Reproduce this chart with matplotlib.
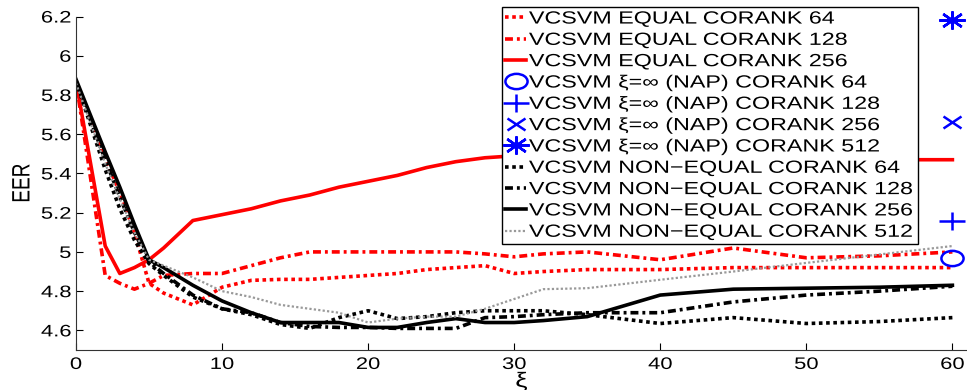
import matplotlib
matplotlib.use("Agg")
import matplotlib.pyplot as plt
from matplotlib.markers import MarkerStyle
from matplotlib.transforms import Affine2D
from matplotlib.ticker import FormatStrFormatter
from matplotlib.patheffects import AbstractPathEffect

plt.rcParams['font.family'] = ['Liberation Sans', 'DejaVu Sans']

# xi values shared by all curves
xi = [0, 2, 3, 4, 5, 6, 8, 10, 12, 14, 16, 18, 20, 22, 24, 26, 28, 30, 32, 35, 40, 45, 50, 55, 60]

# VCSVM equal
eq64 = [5.87, 5.48, 5.30, 5.10, 4.84, 4.79, 4.73, 4.82, 4.855, 4.86, 4.86, 4.87, 4.88, 4.89,
        4.91, 4.92, 4.93, 4.89, 4.90, 4.91, 4.91, 4.92, 4.92, 4.92, 4.92]
eq128 = [5.87, 4.88, 4.84, 4.81, 4.84, 4.88, 4.89, 4.89, 4.93, 4.97, 5.00, 5.00, 5.00, 5.00,
         5.00, 5.00, 4.99, 4.975, 4.99, 5.00, 4.96, 5.02, 4.97, 4.98, 5.00]
eq256 = [5.87, 5.03, 4.89, 4.92, 4.96, 5.02, 5.16, 5.19, 5.22, 5.26, 5.29, 5.33, 5.36, 5.39,
         5.43, 5.46, 5.48, 5.49, 5.49, 5.49, 5.48, 5.48, 5.48, 5.47, 5.47]

# VCSVM xi=inf (NAP), only at xi=60
nap_x = 60
nap64 = 4.97
nap128 = 5.16
nap256 = 5.66
nap512 = 6.18

# VCSVM non-equal
ne64 = [5.87, 5.42, 5.22, 5.06, 4.94, 4.88, 4.77, 4.71, 4.68, 4.63, 4.61, 4.665, 4.70, 4.66,
        4.67, 4.69, 4.70, 4.70, 4.70, 4.68, 4.635, 4.665, 4.635, 4.645, 4.665]
ne128 = [5.87, 5.47, 5.28, 5.10, 4.95, 4.89, 4.78, 4.71, 4.69, 4.64, 4.62, 4.615, 4.615, 4.61,
         4.61, 4.61, 4.665, 4.67, 4.68, 4.69, 4.69, 4.745, 4.78, 4.80, 4.825]
ne256 = [5.88, 5.51, 5.33, 5.14, 4.96, 4.92, 4.83, 4.75, 4.69, 4.64, 4.64, 4.64, 4.615, 4.615,
         4.64, 4.66, 4.64, 4.64, 4.65, 4.67, 4.78, 4.81, 4.815, 4.82, 4.83]
ne512 = [5.86, 5.45, 5.27, 5.10, 4.96, 4.93, 4.87, 4.80, 4.77, 4.73, 4.71, 4.69, 4.64, 4.66,
         4.67, 4.67, 4.71, 4.76, 4.81, 4.815, 4.858, 4.90, 4.944, 4.987, 5.03]


# the original picture is stretched sideways, so stretch the glyphs too
class Stretch(AbstractPathEffect):
    def __init__(self, sx=1.0, sy=1.0, anchor='left'):
        super().__init__()
        self.sx = sx
        self.sy = sy
        self.anchor = anchor

    def draw_path(self, renderer, gc, tpath, affine, rgbFace=None):
        ext = tpath.get_extents()
        if self.anchor == 'left':
            cx = ext.x0
        elif self.anchor == 'right':
            cx = ext.x1
        else:
            cx = (ext.x0 + ext.x1) / 2
        cy = (ext.y0 + ext.y1) / 2
        t = Affine2D().translate(-cx, -cy).scale(self.sx, self.sy).translate(cx, cy)
        renderer.draw_path(gc, tpath, t + affine, rgbFace)


SX = 1.32
dot = (0, (1, 1))
dashdot = (0, (2.2, 1.1, 0.8, 1.1))

fig = plt.figure(figsize=(9.67, 3.9), dpi=100)
ax = fig.add_axes([0.0786, 0.1026, 0.9214, 0.855])

ax.plot(xi, eq64, color='#ff0000', linestyle=dot, linewidth=2.6, label='VCSVM EQUAL CORANK 64')
ax.plot(xi, eq128, color='#ff0000', linestyle=dashdot, linewidth=2.6, label='VCSVM EQUAL CORANK 128')
ax.plot(xi, eq256, color='#ff0000', linestyle='-', linewidth=2.6, label='VCSVM EQUAL CORANK 256')

stretch = Affine2D().scale(1.45, 1.0)
ax.plot([nap_x], [nap64], linestyle='none', color='#0000ff', markersize=11, markeredgewidth=1.8,
        marker=MarkerStyle('o', fillstyle='none', transform=stretch), clip_on=False,
        label='VCSVM ξ=∞ (NAP) CORANK 64')
ax.plot([nap_x], [nap128], linestyle='none', color='#0000ff', markersize=13, markeredgewidth=1.8,
        marker=MarkerStyle('+', transform=stretch), clip_on=False,
        label='VCSVM ξ=∞ (NAP) CORANK 128')
ax.plot([nap_x], [nap256], linestyle='none', color='#0000ff', markersize=9, markeredgewidth=1.8,
        marker=MarkerStyle('x', transform=stretch), clip_on=False,
        label='VCSVM ξ=∞ (NAP) CORANK 256')
ax.plot([nap_x], [nap512], linestyle='none', color='#0000ff', markersize=13, markeredgewidth=1.8,
        marker=MarkerStyle((8, 2, 0), transform=stretch), clip_on=False,
        label='VCSVM ξ=∞ (NAP) CORANK 512')

ax.plot(xi, ne64, color='black', linestyle=dot, linewidth=2.6, label='VCSVM NON\u2212EQUAL CORANK 64')
ax.plot(xi, ne128, color='black', linestyle=dashdot, linewidth=2.6, label='VCSVM NON\u2212EQUAL CORANK 128')
ax.plot(xi, ne256, color='black', linestyle='-', linewidth=2.6, label='VCSVM NON\u2212EQUAL CORANK 256')
ax.plot(xi, ne512, color='#999999', linestyle=(0, (1, 1)), linewidth=1.6, label='VCSVM NON\u2212EQUAL CORANK 512')

ax.set_xlim(0, 61)
ax.set_ylim(4.5, 6.2)
ax.set_xticks([0, 10, 20, 30, 40, 50, 60])
ax.set_yticks([4.6, 4.8, 5.0, 5.2, 5.4, 5.6, 5.8, 6.0, 6.2])
ax.yaxis.set_major_formatter(FormatStrFormatter('%g'))
ax.tick_params(direction='in', length=5, labelsize=12, width=0.8)
ax.tick_params(axis='x', pad=5)
ax.spines['top'].set_visible(False)
ax.spines['right'].set_visible(False)
ax.spines['left'].set_color('#333333')
ax.spines['bottom'].set_color('#333333')

for lbl in ax.get_yticklabels():
    lbl.set_path_effects([Stretch(SX, 1.0, 'right')])
for lbl in ax.get_xticklabels():
    lbl.set_path_effects([Stretch(SX, 1.0, 'center')])

ylab = ax.set_ylabel('EER', fontsize=13.7, labelpad=12)
ylab.set_path_effects([Stretch(1.0, SX, 'center')])
xlab = ax.set_xlabel('ξ', fontsize=15, labelpad=0)
xlab.set_path_effects([Stretch(SX, 1.0, 'center')])

leg = ax.legend(loc='upper left', bbox_to_anchor=(0.5191, 0.3, 0.4302, 0.682),
                bbox_transform=fig.transFigure, mode='expand',
                fontsize=12.7, handlelength=1.15, handletextpad=0.18, borderpad=0.2,
                labelspacing=0.245, borderaxespad=0, fancybox=False, framealpha=1)
leg.get_frame().set_edgecolor('black')
leg.get_frame().set_linewidth(1.0)
for t in leg.get_texts():
    t.set_path_effects([Stretch(SX, 1.0, 'left')])

fig.savefig('out.png', dpi=100)
